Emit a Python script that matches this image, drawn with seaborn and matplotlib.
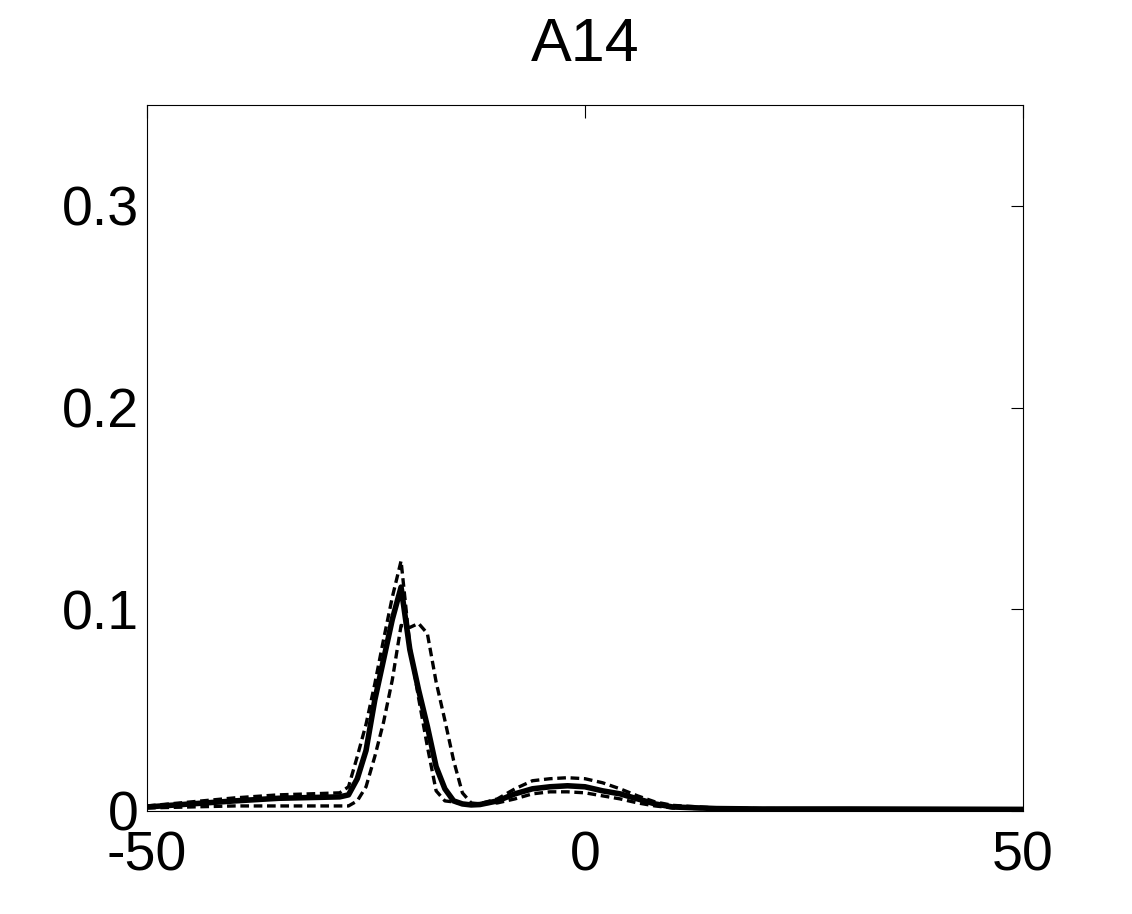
import numpy as np
import pandas as pd
import matplotlib
matplotlib.use("Agg")
import matplotlib.pyplot as plt
import seaborn as sns

# x grid shared by the three curves
x_vals = [-50, -45, -40, -35, -30, -28, -27, -26, -25, -24, -23, -22, -21, -20,
          -19, -18, -17, -16, -15, -14, -13, -12, -10, -8, -6, -4, -2, 0, 2, 4,
          6, 8, 10, 15, 20, 30, 40, 50]

# mean curve (solid)
y_mean = [0.002, 0.0035, 0.005, 0.0063, 0.0068, 0.007, 0.008, 0.016, 0.030, 0.055,
          0.075, 0.095, 0.111, 0.080, 0.060, 0.042, 0.022, 0.011, 0.005, 0.0035,
          0.003, 0.0032, 0.005, 0.0085, 0.011, 0.012, 0.0125, 0.012, 0.010, 0.0085,
          0.006, 0.0035, 0.002, 0.0012, 0.001, 0.001, 0.0009, 0.0008]

# upper dashed curve
y_upper = [0.0025, 0.0045, 0.0065, 0.008, 0.0087, 0.009, 0.012, 0.027, 0.043, 0.063,
           0.085, 0.106, 0.124, 0.082, 0.056, 0.032, 0.010, 0.005, 0.0045, 0.0035,
           0.0033, 0.0036, 0.006, 0.011, 0.015, 0.016, 0.0165, 0.016, 0.014, 0.011,
           0.0075, 0.0045, 0.0028, 0.0015, 0.0012, 0.0011, 0.001, 0.0009]

# lower dashed curve
y_lower = [0.0015, 0.002, 0.0025, 0.0025, 0.0025, 0.0025, 0.0025, 0.005, 0.012, 0.027,
           0.044, 0.065, 0.092, 0.091, 0.093, 0.088, 0.064, 0.045, 0.025, 0.009,
           0.004, 0.0035, 0.004, 0.006, 0.0085, 0.0095, 0.0095, 0.009, 0.0075, 0.006,
           0.004, 0.0025, 0.0015, 0.001, 0.0008, 0.0008, 0.0008, 0.0008]

title = "A14"
x_ticks = [-50, 0, 50]
y_ticks = [0, 0.1, 0.2, 0.3]
y_tick_labels = ["0", "0.1", "0.2", "0.3"]

sns.set_style("white")
plt.rcParams['font.family'] = ['Liberation Sans', 'DejaVu Sans']

df = pd.DataFrame({"x": x_vals, "mean": y_mean, "upper": y_upper, "lower": y_lower})

fig = plt.figure(figsize=(11.32, 9.14), dpi=100)
ax = fig.add_axes([0.1299, 0.1127, 0.9037 - 0.1299, 0.8851 - 0.1127])

sns.lineplot(data=df, x="x", y="upper", ax=ax, color="black", lw=2.4,
             linestyle=(0, (2.6, 1.4)))
sns.lineplot(data=df, x="x", y="lower", ax=ax, color="black", lw=2.4,
             linestyle=(0, (2.6, 1.4)))
sns.lineplot(data=df, x="x", y="mean", ax=ax, color="black", lw=4.0)

ax.set_xlim(-50, 50)
ax.set_ylim(0, 0.35)
ax.set_xticks(x_ticks)
ax.set_xticklabels([str(v) for v in x_ticks])
ax.set_yticks(y_ticks)
ax.set_yticklabels(y_tick_labels)
ax.set_xlabel("")
ax.set_ylabel("")
ax.tick_params(direction="in", length=9, width=0.8, labelsize=40,
               top=True, right=True, colors="black")
ax.tick_params(axis="x", pad=14)
ax.tick_params(axis="y", pad=6)
for s in ax.spines.values():
    s.set_color("black")
    s.set_linewidth(0.8)
ax.set_title(title, fontsize=44, pad=32, color="black")

fig.savefig("out.png", dpi=100)
